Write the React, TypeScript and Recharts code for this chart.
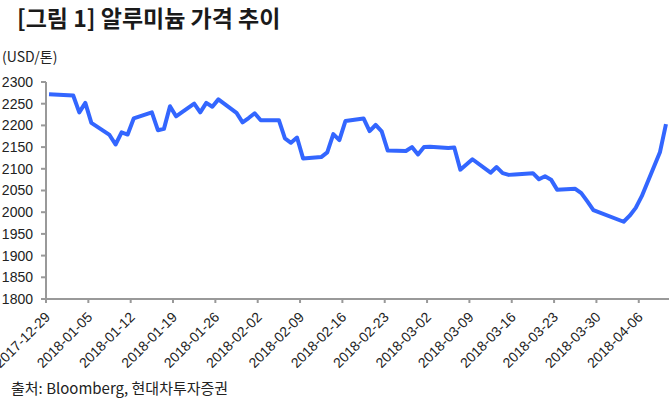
import { LineChart, Line, XAxis, YAxis } from "recharts";

const dates = [
  "2017-12-29", "2018-01-02", "2018-01-03", "2018-01-04", "2018-01-05",
  "2018-01-08", "2018-01-09", "2018-01-10", "2018-01-11", "2018-01-12",
  "2018-01-15", "2018-01-16", "2018-01-17", "2018-01-18", "2018-01-19",
  "2018-01-22", "2018-01-23", "2018-01-24", "2018-01-25", "2018-01-26",
  "2018-01-29", "2018-01-30", "2018-01-31", "2018-02-01", "2018-02-02",
  "2018-02-05", "2018-02-06", "2018-02-07", "2018-02-08", "2018-02-09",
  "2018-02-12", "2018-02-13", "2018-02-14", "2018-02-15", "2018-02-16",
  "2018-02-19", "2018-02-20", "2018-02-21", "2018-02-22", "2018-02-23",
  "2018-02-26", "2018-02-27", "2018-02-28", "2018-03-01", "2018-03-02",
  "2018-03-05", "2018-03-06", "2018-03-07", "2018-03-08", "2018-03-09",
  "2018-03-12", "2018-03-13", "2018-03-14", "2018-03-15", "2018-03-16",
  "2018-03-19", "2018-03-20", "2018-03-21", "2018-03-22", "2018-03-23",
  "2018-03-26", "2018-03-27", "2018-03-28", "2018-03-29",
  "2018-04-03", "2018-04-04", "2018-04-05", "2018-04-06",
  "2018-04-09", "2018-04-10",
];

// LME 알루미늄 (USD/톤)
const prices = [
  2272, 2269, 2230, 2252, 2206,
  2178, 2156, 2184, 2179, 2216,
  2230, 2189, 2192, 2244, 2221,
  2250, 2230, 2252, 2243, 2260,
  2229, 2207, 2217, 2228, 2212,
  2212, 2170, 2160, 2172, 2124,
  2127, 2138, 2180, 2166, 2210,
  2216, 2187, 2201, 2186, 2142,
  2141, 2150, 2133, 2150, 2151,
  2148, 2149, 2098, 2110, 2122,
  2091, 2104, 2090, 2086, 2087,
  2090, 2076, 2083, 2075, 2052,
  2054, 2044, 2025, 2005,
  1978, 1992, 2010, 2037,
  2138, 2203,
];

const tickLabels = [
  "2017-12-29", "2018-01-05", "2018-01-12", "2018-01-19", "2018-01-26",
  "2018-02-02", "2018-02-09", "2018-02-16", "2018-02-23", "2018-03-02",
  "2018-03-09", "2018-03-16", "2018-03-23", "2018-03-30", "2018-04-06",
];

const yTicks = [1800, 1850, 1900, 1950, 2000, 2050, 2100, 2150, 2200, 2250, 2300];

const DAY = 86400000;
const base = Date.parse(tickLabels[0]);
const dayOf = (d: string) => (Date.parse(d) - base) / DAY;

// points sit in the middle of their day slot (date axis, between tick marks)
const data = dates.map((d, i) => ({ x: dayOf(d) + 0.5, price: prices[i] }));
const xTicks = tickLabels.map((d) => dayOf(d));

const FONT = "'Liberation Sans', Arial, Helvetica, sans-serif";
const KFONT = "'Noto Sans CJK KR', 'Noto Sans', sans-serif";

function DateTick(props: any) {
  const { x, y, payload } = props;
  const label = tickLabels[xTicks.indexOf(payload.value)];
  const ax = x + 5;
  const ay = y + 13;
  return (
    <text
      x={ax}
      y={ay}
      transform={`rotate(-45 ${ax} ${ay})`}
      textAnchor="end"
      fontSize={14}
      fontFamily={FONT}
      fill="#222"
    >
      {label}
    </text>
  );
}

export default function App() {
  return (
    <div
      style={{
        position: "absolute",
        left: 0,
        top: 0,
        width: 670,
        height: 403,
        background: "#fff",
        overflow: "hidden",
      }}
    >
      <div
        style={{
          position: "absolute",
          left: 17,
          top: 2,
          fontFamily: KFONT,
          fontSize: 23,
          fontWeight: 700,
          lineHeight: "30px",
          color: "#1a1a1a",
          whiteSpace: "nowrap",
        }}
      >
        [그림 1] 알루미늄 가격 추이
      </div>
      <div
        style={{
          position: "absolute",
          left: 2,
          top: 47,
          fontFamily: KFONT,
          fontSize: 14,
          lineHeight: "18px",
          color: "#222",
        }}
      >
        (USD/톤)
      </div>
      <LineChart
        width={670}
        height={403}
        data={data}
        margin={{ top: 82, right: 1, bottom: 0, left: 0 }}
        style={{ position: "absolute", left: 0, top: 0 }}
      >
        <XAxis
          type="number"
          dataKey="x"
          domain={[0, 103]}
          ticks={xTicks}
          interval={0}
          height={104}
          axisLine={{ stroke: "#999", strokeWidth: 2 }}
          tickLine={{ stroke: "#999", strokeWidth: 2 }}
          tickSize={4}
          tick={<DateTick />}
          allowDataOverflow
        />
        <YAxis
          type="number"
          domain={[1800, 2300]}
          ticks={yTicks}
          interval={0}
          width={46}
          axisLine={{ stroke: "#999", strokeWidth: 2 }}
          tickLine={{ stroke: "#999", strokeWidth: 2 }}
          tickSize={5}
          tickMargin={8}
          tick={{ fontSize: 14, fontFamily: FONT, fill: "#222" }}
        />
        <Line
          type="linear"
          dataKey="price"
          stroke="#3366ff"
          strokeWidth={4}
          dot={false}
          strokeLinejoin="round"
          isAnimationActive={false}
        />
      </LineChart>
      <div
        style={{
          position: "absolute",
          left: 11,
          top: 378,
          fontFamily: KFONT,
          fontSize: 15,
          lineHeight: "20px",
          color: "#222",
          whiteSpace: "nowrap",
        }}
      >
        출처: Bloomberg, 현대차투자증권
      </div>
    </div>
  );
}
